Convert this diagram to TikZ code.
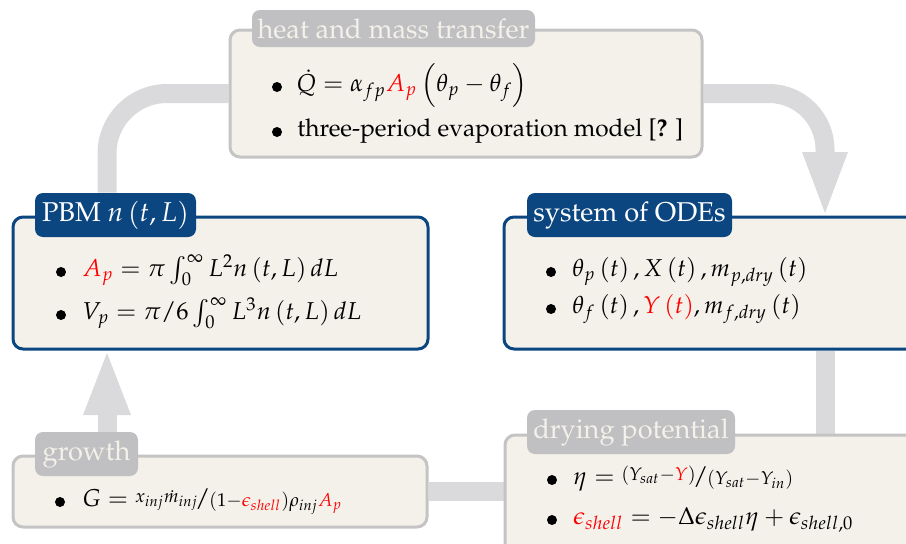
\documentclass[tikz,border=0pt]{standalone}
\usepackage[T1]{fontenc}
\usepackage{mathpazo}
\usepackage{nicefrac}
\usetikzlibrary{backgrounds}
\definecolor{cream}{HTML}{F3F1EA}
\definecolor{boxgray}{HTML}{C4C4C5}
\definecolor{tabgray}{HTML}{C0C0C2}
\definecolor{navy}{HTML}{0B4680}
\definecolor{bandgray}{HTML}{DADADC}
\begin{document}
\begin{tikzpicture}[x=0.5pt, y=-0.5pt, font=\fontsize{12.2}{14}\selectfont,
  box/.style={draw=boxgray, line width=1.5pt, fill=cream, rounded corners=5pt, inner sep=0},
  bluebox/.style={box, draw=navy},
  tab/.style={fill=tabgray, text=cream, rounded corners=4pt, font=\fontsize{13.6}{16}\selectfont, inner sep=0},
  bluetab/.style={tab, fill=navy, text=white},
  band/.style={draw=bandgray, line width=9.5pt},
  dot/.style={circle, fill=black, inner sep=0, minimum size=5pt},
  txt/.style={anchor=mid west, inner sep=0}]
\useasboundingbox (0,0) rectangle (906,543);
% boxes
\node[box, minimum width=236pt, minimum height=63.5pt] (heat) at (466,93.5) {};
\node[tab, minimum width=141.5pt, minimum height=18.5pt] (heattab) at (393.5,28.5) {heat and mass transfer};
\node[bluebox, minimum width=207.5pt, minimum height=66pt] (pbm) at (220.5,283) {};
\node[bluetab, minimum width=80.5pt, minimum height=22pt] (pbmtab) at (115.5,215) {PBM $n\left(t,L\right)$};
\node[bluebox, minimum width=207.5pt, minimum height=66pt] (ode) at (711.5,283) {};
\node[bluetab, minimum width=102.5pt, minimum height=22pt] (odetab) at (629.5,215) {system of ODEs};
\node[box, minimum width=207pt, minimum height=35.5pt] (growth) at (220,491.5) {};
\node[tab, minimum width=51.5pt, minimum height=22pt] (growthtab) at (86.5,454) {growth};
\node[box, minimum width=207.5pt, minimum height=67.5pt] (dry) at (712.5,502.5) {};
\node[tab, minimum width=104pt, minimum height=22pt] (drytab) at (631,432) {drying potential};
% coordinates for arrows
\coordinate (rbase) at (825,154);
\coordinate (rtip) at (825,213);
\coordinate (gbase) at (107,415);
\coordinate (gtip) at (107,353);
% bands
\begin{scope}[on background layer]
\draw[band, rounded corners=30pt] ([xshift=-4.25pt]pbmtab.north) |- (heat.west);
\draw[band, rounded corners=28pt] (heat.east) -| (rbase);
\fill[bandgray] ([xshift=-11.5pt,yshift=1pt]rbase) -- ([xshift=11.5pt,yshift=1pt]rbase) -- (rtip) -- cycle;
\draw[band] (ode.south -| rbase) -- (dry.north -| rbase);
\draw[band] (growth.east) -- (growth.east -| dry.west);
\draw[band] (growthtab.north -| gbase) -- (gbase);
\fill[bandgray] ([xshift=-12pt]gbase) -- ([xshift=12pt]gbase) -- (gtip) -- cycle;
\end{scope}
% heat content
\node[dot] (h1d) at (277,87) {};
\node[txt] (h1) at (296,87) {$\dot{Q} = \alpha_{fp}\textcolor{red}{A_p}\left(\theta_p - \theta_f\right)$};
\node[dot] (h2d) at (277,132) {};
\node[txt] (h2) at (297,132) {three-period evaporation model [\textbf{?} ]};
% pbm content
\node[dot] (p1d) at (61,272) {};
\node[txt] (p1) at (82,272) {$\textcolor{red}{A_p} = \pi\int_0^\infty L^2 n\left(t,L\right)dL$};
\node[dot] (p2d) at (61,315) {};
\node[txt] (p2) at (82,315) {$V_p = \pi/6\int_0^\infty L^3 n\left(t,L\right)dL$};
% ode content
\node[dot] (o1d) at (551,272) {};
\node[txt] (o1) at (572,272) {$\theta_p\left(t\right), X\left(t\right), m_{p,dry}\left(t\right)$};
\node[dot] (o2d) at (551,309) {};
\node[txt] (o2) at (572,309) {$\theta_f\left(t\right), \textcolor{red}{Y\left(t\right)}, m_{f,dry}\left(t\right)$};
% growth content
\node[dot] (g1d) at (60,502) {};
\node[txt] (g1) at (82,502) {$G = \nicefrac{x_{inj}\dot{m}_{inj}}{(1-\textcolor{red}{\epsilon_{shell}})\rho_{inj}\textcolor{red}{A_p}}$};
% dry content
\node[dot] (d1d) at (552,480) {};
\node[txt] (d1) at (573,480) {$\eta = \nicefrac{(Y_{sat}-\textcolor{red}{Y})}{(Y_{sat}-Y_{in})}$};
\node[dot] (d2d) at (552,520) {};
\node[txt] (d2) at (573,520) {$\textcolor{red}{\epsilon_{shell}} = -\Delta\epsilon_{shell}\eta + \epsilon_{shell,0}$};
\end{tikzpicture}
\end{document}
